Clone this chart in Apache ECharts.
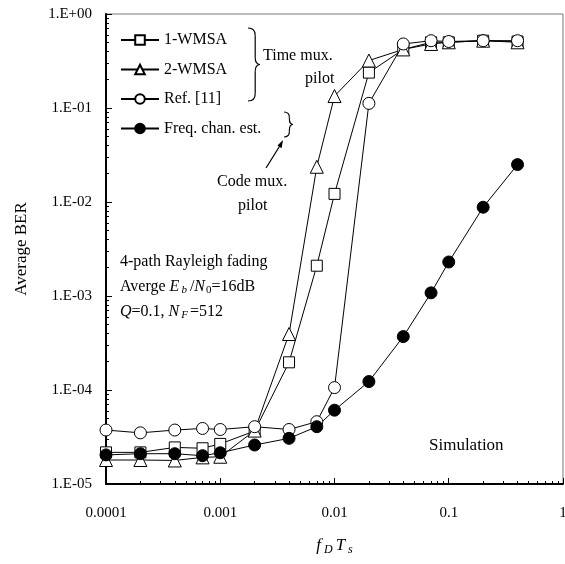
<!DOCTYPE html>
<html>
<head>
<meta charset="utf-8">
<script src="https://cdn.jsdelivr.net/npm/echarts@6/dist/echarts.min.js"></script>
<style>
  html, body { margin: 0; padding: 0; background: #fff; }
  #chart { width: 565px; height: 564px; }
</style>
</head>
<body>
<div id="chart"></div>
<script>
// fDTs 取值
var xVals = [0.0001, 0.0002, 0.0004, 0.0007, 0.001, 0.002, 0.004, 0.007, 0.01, 0.02, 0.04, 0.07, 0.1, 0.2, 0.4];
// 各方法的平均 BER
var wmsa1 = [2.17e-5, 2.17e-5, 2.45e-5, 2.4e-5, 2.67e-5, 3.66e-5, 1.97e-4, 2.1e-3, 1.22e-2, 0.238, 0.42, 0.5, 0.5, 0.52, 0.51];
var wmsa2 = [1.8e-5, 1.8e-5, 1.78e-5, 1.92e-5, 1.95e-5, 3.7e-5, 3.94e-4, 2.37e-2, 0.134, 0.32, 0.42, 0.48, 0.5, 0.52, 0.5];
var ref11 = [3.75e-5, 3.5e-5, 3.75e-5, 3.9e-5, 3.8e-5, 4.07e-5, 3.8e-5, 4.6e-5, 1.06e-4, 0.112, 0.48, 0.52, 0.51, 0.52, 0.52];
var freqEst = [2.04e-5, 2.1e-5, 2.1e-5, 2.0e-5, 2.15e-5, 2.6e-5, 3.06e-5, 4.07e-5, 6.1e-5, 1.23e-4, 3.7e-4, 1.08e-3, 2.3e-3, 8.8e-3, 2.5e-2];
var names = ['1-WMSA', '2-WMSA', 'Ref. [11]', 'Freq. chan. est.'];

// 次刻度 (log10 位置)
function minorTicks(lo, hi) {
  var arr = [];
  for (var e = lo; e < hi; e++) {
    for (var k = 2; k <= 9; k++) arr.push(e + Math.log10(k));
  }
  return arr;
}

function pairs(ys) {
  var out = [];
  for (var i = 0; i < xVals.length; i++) out.push([xVals[i], ys[i]]);
  return out;
}

// 右花括号 }
function brace(x, y0, y1, w) {
  var m = (y0 + y1) / 2, r = w * 0.6;
  var st = { fill: null, stroke: '#000', lineWidth: 1.2 };
  var xm = x + r;
  return [
    { type: 'bezierCurve', shape: { x1: x, y1: y0, cpx1: xm, cpy1: y0, x2: xm, y2: y0 + r }, style: st },
    { type: 'line', shape: { x1: xm, y1: y0 + r, x2: xm, y2: m - r }, style: st },
    { type: 'bezierCurve', shape: { x1: xm, y1: m - r, cpx1: xm, cpy1: m, x2: x + w, y2: m }, style: st },
    { type: 'bezierCurve', shape: { x1: x + w, y1: m, cpx1: xm, cpy1: m, x2: xm, y2: m + r }, style: st },
    { type: 'line', shape: { x1: xm, y1: m + r, x2: xm, y2: y1 - r }, style: st },
    { type: 'bezierCurve', shape: { x1: xm, y1: y1 - r, cpx1: xm, cpy1: y1, x2: x, y2: y1 }, style: st }
  ];
}

var font = '"Liberation Serif", "Times New Roman", serif';
var chart = echarts.init(document.getElementById('chart'));

function mkSeries(name, data, symbol, size, fill) {
  return {
    name: name, type: 'line', data: pairs(data),
    xAxisIndex: 0, yAxisIndex: 0,
    symbol: symbol, symbolSize: size, showSymbol: true,
    lineStyle: { color: '#000', width: 1 },
    itemStyle: { color: fill, borderColor: '#000', borderWidth: 1 },
    emphasis: { disabled: true },
    animation: false
  };
}

var txt = function (x, y, s, size) {
  return { type: 'text', left: x, top: y, style: { text: s, font: (size || 16) + 'px ' + font, fill: '#000' } };
};

var graphics = [].concat(
  brace(248, 28, 101, 12),
  brace(284, 112, 137, 9),
  [
    txt(263, 48, 'Time mux.'),
    txt(305, 71, 'pilot'),
    { type: 'line', shape: { x1: 266, y1: 168, x2: 281, y2: 144 }, style: { stroke: '#000', lineWidth: 1.2 } },
    { type: 'polygon', shape: { points: [[283, 140], [277.5, 145.5], [281.6, 148.2]] }, style: { fill: '#000' } },
    txt(217, 174, 'Code mux.'),
    txt(238, 198, 'pilot'),
    txt(120, 254, '4-path Rayleigh fading'),
    { type: 'text', left: 120, top: 279, style: {
        text: 'Averge {i|E}{s|b}{n|/}{i|N}{t|0}{n|=16dB}',
        font: '16px ' + font, fill: '#000',
        rich: {
          i: { fontFamily: font, fontStyle: 'italic', fontSize: 16 },
          s: { fontFamily: font, fontStyle: 'italic', fontSize: 11, verticalAlign: 'bottom', padding: [6, 3, 0, 2] },
          t: { fontFamily: font, fontSize: 11, verticalAlign: 'bottom', padding: [6, 0, 0, 1] },
          n: { fontFamily: font, fontSize: 16 }
        }
      } },
    { type: 'text', left: 120, top: 304, style: {
        text: '{i|Q}{n|=0.1, }{i|N}{s|F}{n|=512}',
        font: '16px ' + font, fill: '#000',
        rich: {
          i: { fontFamily: font, fontStyle: 'italic', fontSize: 16 },
          s: { fontFamily: font, fontStyle: 'italic', fontSize: 11, verticalAlign: 'bottom', padding: [6, 2, 0, 2] },
          n: { fontFamily: font, fontSize: 16 }
        }
      } },
    txt(429, 437, 'Simulation', 17)
  ]
);

var option = {
  animation: false,
  textStyle: { fontFamily: font },
  grid: { left: 106, right: 2, top: 14, bottom: 80, show: true, borderColor: '#777', borderWidth: 1, outerBoundsMode: 'none', containLabel: false },
  legend: {
    orient: 'vertical', left: 120, top: 32, padding: 0,
    itemWidth: 38, itemHeight: 12, itemGap: 13.5,
    textStyle: { fontFamily: font, fontSize: 16, color: '#000' },
    data: names
  },
  xAxis: [{
    type: 'log', logBase: 10, min: 0.0001, max: 1,
    name: '{i|f}{s| D }{i|T}{s| s}', nameLocation: 'middle', nameGap: 52,
    nameTextStyle: {
      rich: {
        i: { fontFamily: font, fontStyle: 'italic', fontSize: 17, color: '#000' },
        s: { fontFamily: font, fontStyle: 'italic', fontSize: 12, color: '#000', verticalAlign: 'bottom', padding: [8, 0, 0, 0] }
      }
    },
    axisLine: { onZero: false, lineStyle: { color: '#000', width: 2 } },
    axisTick: { inside: true, length: 6, lineStyle: { color: '#000' } },
    axisLabel: {
      margin: 22, fontSize: 15, color: '#000', fontFamily: font,
      formatter: function (v) {
        var e = Math.round(Math.log10(v));
        return e === 0 ? '1' : (Math.pow(10, e)).toFixed(-e);
      }
    },
    splitLine: { show: false }
  }, {
    type: 'value', min: -4, max: 0, position: 'bottom',
    axisLine: { show: false, onZero: false },
    axisTick: { show: true, inside: true, length: 3, customValues: minorTicks(-4, 0), lineStyle: { color: '#000' } },
    axisLabel: { show: false },
    splitLine: { show: false }
  }],
  yAxis: [{
    type: 'log', logBase: 10, min: 1e-5, max: 1,
    name: 'Average BER', nameLocation: 'middle', nameGap: 76,
    nameTextStyle: { fontFamily: font, fontSize: 17, color: '#000' },
    axisLine: { onZero: false, lineStyle: { color: '#000', width: 2 } },
    axisTick: { inside: true, length: 6, lineStyle: { color: '#000' } },
    axisLabel: {
      margin: 14, fontSize: 15, color: '#000', fontFamily: font,
      formatter: function (v) {
        var e = Math.round(Math.log10(v));
        var a = Math.abs(e);
        return '1.E' + (e >= 0 ? '+' : '-') + (a < 10 ? '0' : '') + a;
      }
    },
    splitLine: { show: false }
  }, {
    type: 'value', min: -5, max: 0, position: 'left',
    axisLine: { show: false, onZero: false },
    axisTick: { show: true, inside: true, length: 3, customValues: minorTicks(-5, 0), lineStyle: { color: '#000' } },
    axisLabel: { show: false },
    splitLine: { show: false }
  }],
  graphic: graphics,
  series: [
    mkSeries(names[0], wmsa1, 'rect', 11, '#fff'),
    mkSeries(names[1], wmsa2, 'triangle', 13, '#fff'),
    mkSeries(names[2], ref11, 'circle', 12, '#fff'),
    mkSeries(names[3], freqEst, 'circle', 12, '#000')
  ]
};
chart.setOption(option);
</script>
</body>
</html>
